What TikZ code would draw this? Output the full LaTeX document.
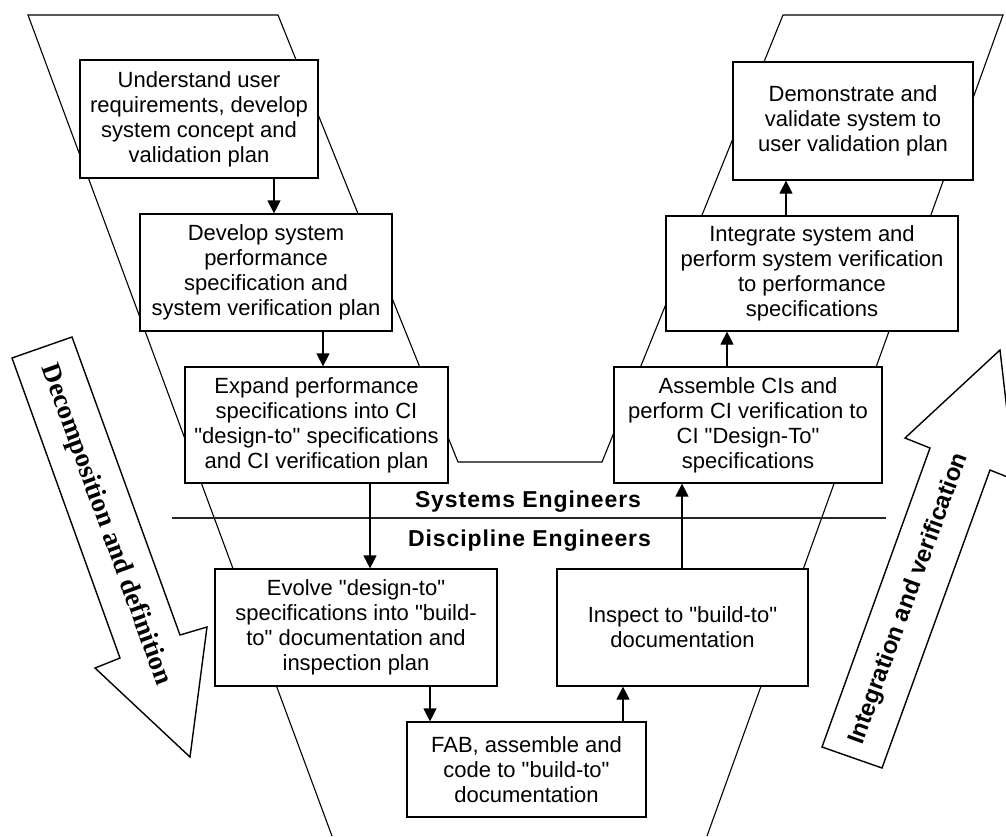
\documentclass[tikz,border=0pt]{standalone}
\usepackage{fontspec}
\setmainfont{Liberation Sans}[Ligatures=TeXOff]
\newfontfamily\arrowserif{Liberation Serif}[Ligatures=TeXOff]
\newfontfamily\rolefont{Liberation Sans}[LetterSpace=4, Ligatures=TeXOff]
\usetikzlibrary{arrows.meta}

\tikzset{
  stepbox/.style={draw, fill=white, line width=1.2pt, align=center, inner sep=2pt,
    font={\fontsize{22}{25}\selectfont}},
  flow/.style={line width=1.2pt, -{Triangle[width=13pt,length=13pt]}},
  vline/.style={line width=1.1pt, line join=miter},
  bigarrow/.style={draw, fill=white, line width=1.4pt, line join=miter},
  rolelabel/.style={anchor=base, inner sep=0pt, font={\rolefont\bfseries\fontsize{23}{26}\selectfont}},
}

\begin{document}
\begin{tikzpicture}[x=1pt, y=-1pt]
\useasboundingbox (0,0) rectangle (1006,836);
\clip (0,0) rectangle (1006,836);

% the "V" band
\draw[vline] (332,836) -- (28,15) -- (278,15) -- (458,462) -- (602,462)
  -- (783,15) -- (1003,15) -- (707,836);

% divider between the two engineering groups
\draw[line width=1.2pt, black!85] (172,518) -- (886,518);

% wide arrows at both sides
\draw[bigarrow] (12,358) -- (72,337) -- (180,635) -- (207,627) -- (190,757)
  -- (95,668) -- (120,658) -- cycle;
\draw[bigarrow] (822,747) -- (882,768) -- (990,470) -- (1015,480) -- (1000,350)
  -- (905,438) -- (930,448) -- cycle;
\node[rotate=-70, inner sep=0pt, font={\arrowserif\bfseries\fontsize{27}{30}\selectfont}]
  (dec) at (106,525) {Decomposition and definition};
\node[rotate=70, inner sep=0pt, font={\bfseries\fontsize{24}{27}\selectfont}]
  (intg) at (909,599) {Integration and verification};

% process steps
\node[stepbox, minimum width=238pt, minimum height=118pt] (b1) at (199,119)
  {Understand user\\requirements, develop\\system concept and\\validation plan};
\node[stepbox, minimum width=252pt, minimum height=117pt] (b2) at (266,272.5)
  {Develop system\\performance\\specification and\\system verification plan};
\node[stepbox, minimum width=263pt, minimum height=116pt] (b3) at (316.5,425)
  {Expand performance\\specifications into CI\\"design-to" specifications\\and CI verification plan};
\node[stepbox, minimum width=282pt, minimum height=117pt] (b4) at (356,627.5)
  {Evolve "design-to"\\specifications into "build-\\to" documentation and\\inspection plan};
\node[stepbox, minimum width=239pt, minimum height=95pt] (b5) at (526.5,769.5)
  {FAB, assemble and\\code to "build-to"\\documentation};
\node[stepbox, minimum width=251pt, minimum height=117pt] (b6) at (682.5,627.5)
  {Inspect to "build-to"\\documentation};
\node[stepbox, minimum width=268pt, minimum height=116pt] (b7) at (748,425)
  {Assemble CIs and\\perform CI verification to\\CI "Design-To"\\specifications};
\node[stepbox, minimum width=292pt, minimum height=115pt] (b8) at (812,273.5)
  {Integrate system and\\perform system verification\\to performance\\specifications};
\node[stepbox, minimum width=240pt, minimum height=118pt] (b9) at (853,121)
  {Demonstrate and\\validate system to\\user validation plan};

% connector columns
\coordinate (k12) at (274,0);
\coordinate (k23) at (323,0);
\coordinate (k34) at (370,0);
\coordinate (k45) at (430,0);
\coordinate (k56) at (623,0);
\coordinate (k67) at (682,0);
\coordinate (k78) at (727,0);
\coordinate (k89) at (786,0);

\draw[flow] (b1.south -| k12) -- (b2.north -| k12);
\draw[flow] (b2.south -| k23) -- (b3.north -| k23);
\draw[flow] (b3.south -| k34) -- (b4.north -| k34);
\draw[flow] (b4.south -| k45) -- (b5.north -| k45);
\draw[flow] (b5.north -| k56) -- (b6.south -| k56);
\draw[flow] (b6.north -| k67) -- (b7.south -| k67);
\draw[flow] (b7.north -| k78) -- (b8.south -| k78);
\draw[flow] (b8.north -| k89) -- (b9.south -| k89);

% group labels
\node[rolelabel] (sys) at (528,507) {Systems Engineers};
\node[rolelabel] (dis) at (529.5,546) {Discipline Engineers};
\end{tikzpicture}
\end{document}
